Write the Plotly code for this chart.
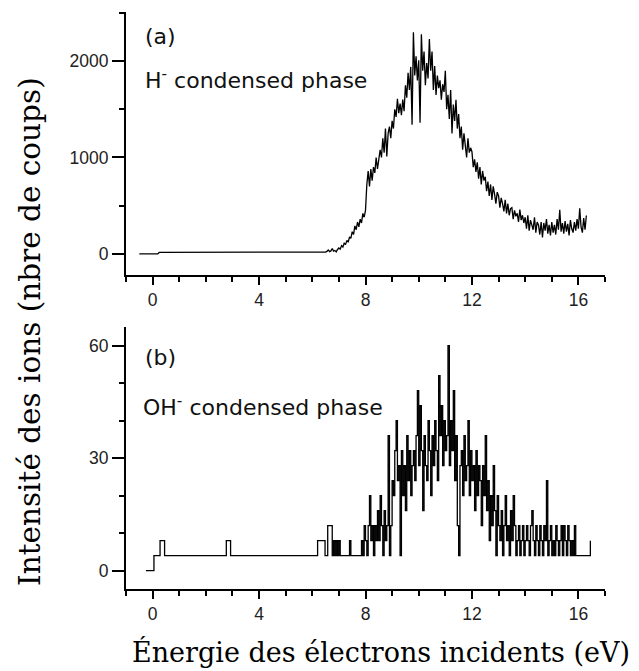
import numpy as np
import plotly.graph_objects as go

# ---------------- Panel (a): H- condensed phase ----------------
energy_a_base = [-0.5, 0.2, 0.25, 6.45]
counts_a_base = [0, 0, 15, 15]
energy_a_start = 6.50
energy_step = 0.05
counts_a = [
    18, 25, 40, 22, 30, 55, 28, 35, 20, 45,
    60, 48, 85, 70, 110, 95, 140, 120, 175, 160,
    230, 200, 290, 250, 330, 280, 360, 320, 420, 380,
    450, 720, 860, 700, 880, 760, 900, 840, 1000, 880,
    960, 1080, 1000, 1200, 1050, 1300, 1010, 1250, 1320, 1200,
    1380, 1300, 1500, 1420, 1610, 1460, 1560, 1440, 1600, 1480,
    1750, 1620, 1880, 1700, 1940, 1340, 2300, 1850, 2050, 1800,
    2010, 1360, 2280, 1900, 2100, 1750, 1980, 1820, 2230, 1900,
    2100, 1700, 1950, 1650, 1850, 1720, 1800, 1600, 1760, 1680,
    1900, 1500, 1650, 1400, 1700, 1250, 1550, 1380, 1600, 1300,
    1450, 1200, 1320, 1080, 1250, 1150, 1000, 1200, 1050, 1100,
    1060, 900, 980, 850, 950, 780, 900, 720, 860, 760,
    800, 650, 750, 600, 720, 560, 700, 620, 520, 640,
    600, 480, 580, 520, 440, 560, 420, 520, 400, 470,
    480, 360, 450, 390, 420, 330, 460, 350, 400, 320,
    380, 260, 400, 240, 350, 300, 250, 380, 220, 330,
    300, 200, 330, 170, 320, 240, 360, 210, 300, 190,
    330, 220, 300, 200, 360, 250, 456, 230, 320, 210,
    340, 230, 310, 190, 350, 260, 220, 330, 240, 360,
    260, 473, 280, 220, 370, 250, 397,
]

# ---------------- Panel (b): OH- condensed phase ----------------
energy_b_base = [-0.25, 0.05, 0.28, 0.45, 2.77, 2.93, 6.20, 6.48, 6.58, 6.75]
counts_b_base = [0, 4, 8, 4, 8, 4, 8, 4, 12, 4]
energy_b_start = 6.80
counts_b = [
    8, 4, 8, 4, 8, 4, 4, 4, 4, 4,
    4, 4, 8, 4, 4, 4, 4, 4, 4, 4,
    4, 8, 4, 12, 8, 4, 12, 20, 8, 12,
    4, 12, 8, 16, 8, 20, 12, 4, 16, 8,
    12, 36, 4, 12, 24, 20, 32, 40, 24, 28,
    4, 32, 20, 28, 16, 36, 24, 32, 20, 28,
    32, 24, 36, 48, 28, 44, 32, 16, 36, 28,
    24, 40, 32, 20, 36, 28, 40, 32, 24, 52,
    36, 44, 28, 40, 32, 36, 60, 28, 40, 32,
    48, 24, 36, 12, 4, 28, 32, 20, 36, 24,
    28, 40, 20, 32, 24, 28, 16, 32, 20, 28,
    24, 12, 28, 20, 36, 16, 24, 8, 20, 12,
    28, 16, 4, 20, 12, 8, 16, 4, 12, 20,
    8, 12, 4, 16, 8, 20, 12, 4, 8, 12,
    4, 8, 12, 4, 8, 12, 8, 4, 12, 16,
    8, 4, 12, 8, 4, 12, 8, 4, 12, 8,
    24, 4, 8, 12, 4, 8, 4, 12, 8, 4,
    8, 12, 4, 12, 8, 4, 12, 8, 4, 8,
    4, 12, 4, 4, 4, 4, 4, 4, 4, 4,
    4, 4, 4, 8,
]

x_tick_step = 4
x_range = [-1, 17]
ya_range = [-220, 2510]
yb_range = [-4.9, 65]

energy_a = list(energy_a_base) + list(np.round(energy_a_start + energy_step * np.arange(len(counts_a)), 3))
y_a = list(counts_a_base) + list(counts_a)
energy_b = list(energy_b_base) + list(np.round(energy_b_start + energy_step * np.arange(len(counts_b)), 3))
y_b = list(counts_b_base) + list(counts_b)

fig = go.Figure()
fig.add_trace(go.Scatter(x=energy_a, y=y_a, mode="lines", xaxis="x", yaxis="y",
                         line=dict(color="black", width=1.3), showlegend=False))
fig.add_trace(go.Scatter(x=energy_b, y=y_b, mode="lines", xaxis="x2", yaxis="y2",
                         line=dict(color="black", width=1.3, shape="hv"), showlegend=False))

tickfont = dict(family="Liberation Sans, Arial, sans-serif", size=17.5, color="#222")

def xax(anchor):
    return dict(anchor=anchor, domain=[0, 1], range=x_range, tick0=0, dtick=x_tick_step,
                ticks="outside", ticklen=8, tickwidth=1.5, tickcolor="black",
                minor=dict(ticks="outside", ticklen=5, tickwidth=1.5, tickcolor="black", tick0=0, dtick=1),
                showline=True, linecolor="black", linewidth=2, showgrid=False, zeroline=False,
                tickfont=tickfont)

def yax(anchor, domain, rng, dtick, mdtick):
    return dict(anchor=anchor, domain=domain, range=rng, tick0=0, dtick=dtick,
                ticks="outside", ticklen=12, tickwidth=1.5, tickcolor="black",
                minor=dict(ticks="outside", ticklen=5, tickwidth=1.5, tickcolor="black", tick0=0, dtick=mdtick),
                showline=True, linecolor="black", linewidth=2, showgrid=False, zeroline=False,
                tickfont=tickfont)

label_font = dict(family="DejaVu Sans, sans-serif", size=22, color="#111")
serif_y_font = dict(family="DejaVu Serif, serif", size=29.5, color="black")
serif_x_font = dict(family="DejaVu Serif, serif", size=27, color="black")

# The page body adds an 8 px offset, so the figure is 8 px smaller on each side.
fig.update_layout(
    width=631, height=663,
    margin=dict(l=118, r=34, t=4, b=82),
    plot_bgcolor="white", paper_bgcolor="white",
    xaxis=xax("y"),
    yaxis=yax("x", [0.5442, 1.0], ya_range, 1000, 500),
    xaxis2=xax("y2"),
    yaxis2=yax("x2", [0.0, 0.4541], yb_range, 30, 10),
    annotations=[
        dict(text="(a)", x=0.0355, y=0.905, xref="x domain", yref="y domain",
             xanchor="left", yanchor="middle", showarrow=False, font=label_font),
        dict(text="H<sup>-</sup> condensed phase", x=0.0355, y=0.745, xref="x domain", yref="y domain",
             xanchor="left", yanchor="middle", showarrow=False, font=label_font),
        dict(text="(b)", x=0.0355, y=0.882, xref="x2 domain", yref="y2 domain",
             xanchor="left", yanchor="middle", showarrow=False, font=label_font),
        dict(text="OH<sup>-</sup> condensed phase", x=0.031, y=0.697, xref="x2 domain", yref="y2 domain",
             xanchor="left", yanchor="middle", showarrow=False, font=label_font),
        dict(text="Intensité des ions (nbre de coups)", x=-0.2004, y=0.4454, xref="paper", yref="paper",
             textangle=-90, xanchor="center", yanchor="middle", showarrow=False, font=serif_y_font),
        dict(text="Énergie des électrons incidents (eV)", x=0.5324, y=-0.1092, xref="paper", yref="paper",
             xanchor="center", yanchor="middle", showarrow=False, font=serif_x_font),
    ],
)

fig.write_html("out.html")
